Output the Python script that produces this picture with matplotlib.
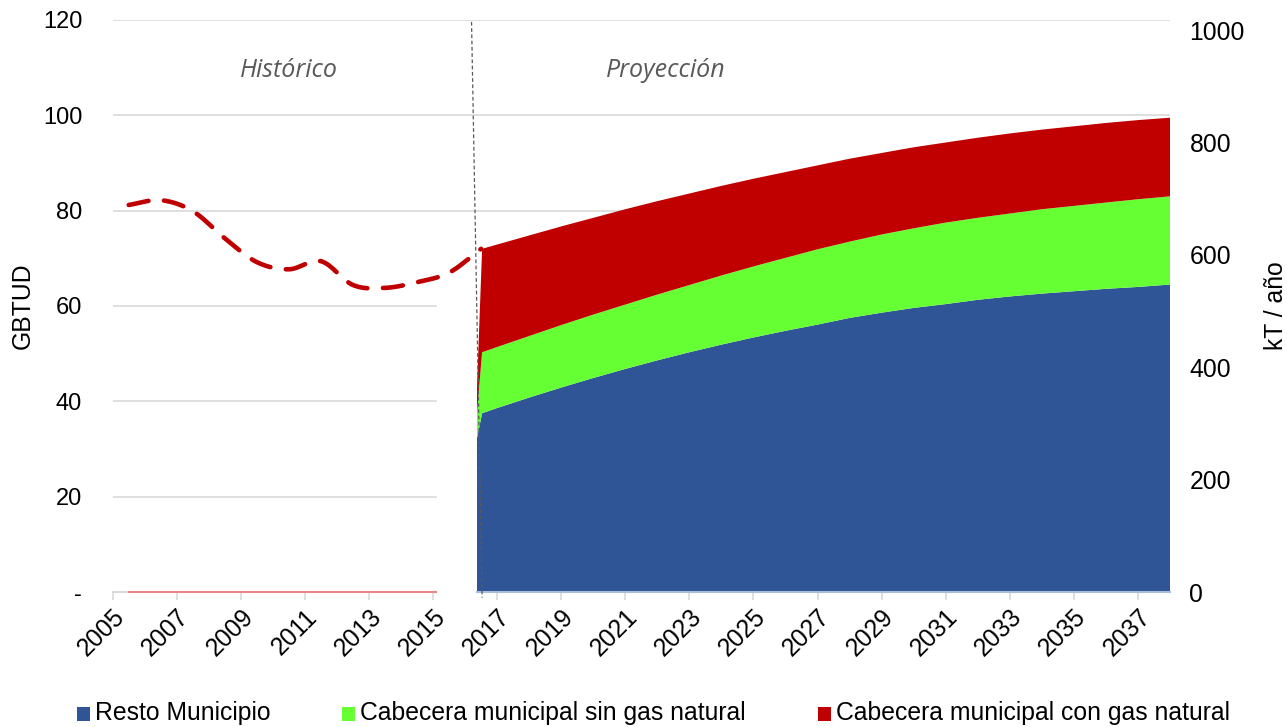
import numpy as np
import matplotlib
matplotlib.use("Agg")
import matplotlib.pyplot as plt
from matplotlib.patches import Rectangle
from matplotlib import transforms

plt.rcParams["font.family"] = ["Liberation Sans", "DejaVu Sans"]

# Histórico (GBTUD), puntos anuales
hist_years = [2005.5, 2006.5, 2007.5, 2008.5, 2009.5, 2010.5, 2011.5,
              2012.5, 2013.5, 2014.5, 2015.5, 2016.5]
hist_vals = [81.2, 82.2, 79.9, 74.2, 69.2, 67.7, 69.4, 64.4, 63.8, 65.0, 67.0, 72.0]
hist_zero_years = [2005.5, 2015.1]
hist_zero_vals = [0, 0]

# Proyección por segmento (GBTUD)
proj_years = [2016.37, 2016.53] + list(range(2017, 2039))
resto = [32.3, 37.5, 38.6, 40.8, 42.9, 44.9, 46.8, 48.6, 50.3, 51.9, 53.4, 54.8,
         56.1, 57.5, 58.6, 59.6, 60.4, 61.3, 62.0, 62.6, 63.1, 63.6, 64.0, 64.5]
sin_gas = [5.3, 12.8, 12.8, 12.9, 13.1, 13.3, 13.5, 13.8, 14.1, 14.5, 14.9, 15.3,
           15.8, 16.0, 16.4, 16.7, 17.1, 17.2, 17.4, 17.7, 17.9, 18.1, 18.4, 18.5]
con_gas = [5.4, 21.7, 21.5, 21.1, 20.7, 20.3, 20.0, 19.6, 19.2, 18.8, 18.4, 18.0,
           17.6, 17.4, 17.1, 17.0, 16.8, 16.8, 16.8, 16.7, 16.7, 16.7, 16.6, 16.5]

series_names = ["Resto Municipio", "Cabecera municipal sin gas natural",
                "Cabecera municipal con gas natural"]
colors = ["#2F5597", "#66FF33", "#C00000"]

x_ticks = list(range(2005, 2038, 2))
left_ticks = [0, 20, 40, 60, 80, 100, 120]
left_labels = ["-", "20", "40", "60", "80", "100", "120"]
right_ticks = [0, 200, 400, 600, 800, 1000]

FS = 17.8


def smooth(x, y, n=16):
    # curva suavizada tipo Catmull-Rom para la línea punteada
    x = np.asarray(x, float)
    y = np.asarray(y, float)
    px = np.concatenate([[2 * x[0] - x[1]], x, [2 * x[-1] - x[-2]]])
    py = np.concatenate([[2 * y[0] - y[1]], y, [2 * y[-1] - y[-2]]])
    xs, ys = [], []
    t = np.linspace(0, 1, n, endpoint=False)
    for i in range(1, len(px) - 2):
        for p, out in ((px, xs), (py, ys)):
            p0, p1, p2, p3 = p[i - 1], p[i], p[i + 1], p[i + 2]
            out.extend(0.5 * ((2 * p1) + (-p0 + p2) * t
                              + (2 * p0 - 5 * p1 + 4 * p2 - p3) * t ** 2
                              + (-p0 + 3 * p1 - 3 * p2 + p3) * t ** 3))
    xs.append(x[-1])
    ys.append(y[-1])
    return np.array(xs), np.array(ys)


fig = plt.figure(figsize=(12.87, 7.27), dpi=100)
ax = fig.add_axes([112.7 / 1287, 1 - 592 / 727, (1170 - 112.7) / 1287, 572 / 727])
ax.set_xlim(2005, 2038)
ax.set_ylim(0, 120)

# líneas de cuadrícula
grid_c = "#D9D9D9"
for v in [20, 40, 60]:
    ax.plot([2005, 2015.1], [v, v], color=grid_c, lw=1.2, zorder=0)
for v in [80, 100, 120]:
    ax.plot([2005, 2038], [v, v], color=grid_c, lw=1.2, zorder=0)
ax.plot([2005, 2015.1], [0, 0], color=grid_c, lw=1.5, zorder=1, clip_on=False)
ax.plot([2016.37, 2038], [0, 0], color="#A9BCDB", lw=1.5, zorder=3, clip_on=False)

ax.stackplot(proj_years, resto, sin_gas, con_gas, colors=colors,
             labels=series_names, lw=0, zorder=2)

ax.plot(hist_zero_years, hist_zero_vals, color="#E8888A", lw=1.5, zorder=3, clip_on=False)

sx, sy = smooth(hist_years, hist_vals)
ax.plot(sx, sy, color="#C00000", lw=3.3, ls=(0, (4.4, 3.4)),
        dash_capstyle="round", zorder=1)

# separador histórico / proyección
ax.plot([2016.2, 2016.53], [119.6, -1.2], color="#595959", lw=0.9,
        ls=(0, (3, 2)), zorder=5, clip_on=False)

ax.text(2010.5, 109.5, "Histórico", family=["Open Sans", "DejaVu Sans"],
        style="italic", color="#595959", fontsize=18, ha="center", va="center")
ax.text(2022.25, 109.5, "Proyección", family=["Open Sans", "DejaVu Sans"],
        style="italic", color="#595959", fontsize=18, ha="center", va="center")

for s in ax.spines.values():
    s.set_visible(False)

ax.set_xticks(x_ticks)
ax.set_xticklabels([str(y) for y in x_ticks], rotation=45, ha="right",
                   va="top", rotation_mode="anchor", fontsize=FS)
offset = transforms.ScaledTranslation(18 / 100, -2 / 100, fig.dpi_scale_trans)
for lab in ax.get_xticklabels():
    lab.set_transform(lab.get_transform() + offset)
ax.tick_params(axis="x", length=6, width=1.2, color=grid_c, pad=3)

ax.set_yticks(left_ticks)
ax.set_yticklabels(left_labels, fontsize=17)
ax.tick_params(axis="y", length=0, pad=22)
ax.set_ylabel("GBTUD", fontsize=FS, labelpad=6)

ax2 = ax.twinx()
ax2.set_ylim(0, 1017.8)
ax2.set_yticks(right_ticks)
ax2.set_yticklabels([str(v) for v in right_ticks], fontsize=FS)
ax2.tick_params(axis="y", length=0, pad=14)
ax2.set_ylabel("kT / año", fontsize=FS, labelpad=14)
for s in ax2.spines.values():
    s.set_visible(False)

# leyenda inferior
legend_x = [77, 342, 818]
for name, c, lx in zip(series_names, colors, legend_x):
    fig.patches.append(Rectangle((lx / 1287, 1 - 721 / 727), 13 / 1287, 14 / 727,
                                 transform=fig.transFigure, color=c, lw=0))
    fig.text((lx + 18) / 1287, 1 - 713 / 727, name, fontsize=FS,
             ha="left", va="center")

fig.savefig("out.png", dpi=100)
